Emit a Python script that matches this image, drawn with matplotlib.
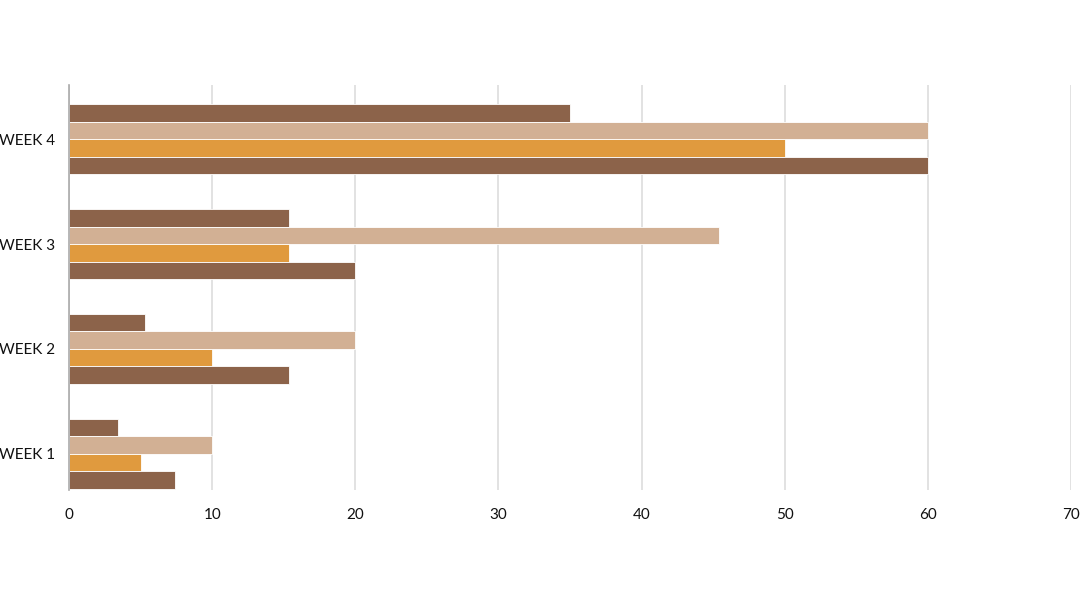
import matplotlib
matplotlib.use("Agg")
import matplotlib.pyplot as plt
import numpy as np

weeks = ["WEEK 1", "WEEK 2", "WEEK 3", "WEEK 4"]
series_a = [3.4, 5.3, 15.4, 35]    # top bar, dark brown
series_b = [10, 20, 45.4, 60]      # tan
series_c = [5, 10, 15.4, 50]       # orange
series_d = [7.4, 15.4, 20, 60]     # bottom bar, dark brown
xticks = [0, 10, 20, 30, 40, 50, 60, 70]

colors = ["#8C634A", "#D2B094", "#E09A3E", "#8C634A"]

plt.rcParams['font.family'] = ['Lato', 'DejaVu Sans']
fig = plt.figure(figsize=(10.8, 6.08), dpi=100)
ax = fig.add_axes([0.0639, 0.194, 0.9278, 0.666])

y = np.arange(len(weeks))
h = 0.167
offsets = [1.5 * h, 0.5 * h, -0.5 * h, -1.5 * h]
for vals, off, c in zip([series_a, series_b, series_c, series_d], offsets, colors):
    ax.barh(y + off, vals, height=h, color=c, edgecolor="white", linewidth=0.6, zorder=3)

ax.set_xlim(0, 70)
ax.set_ylim(-0.345, 3.515)
ax.set_xticks(xticks)
ax.set_xticklabels([str(t) for t in xticks])
ax.set_yticks(y)
ax.set_yticklabels(weeks)
ax.tick_params(axis='both', length=0, labelsize=11, colors="#111111")
ax.tick_params(axis='x', pad=13)
ax.tick_params(axis='y', pad=10)
ax.xaxis.grid(True, color="#DDDDDD", linewidth=1.2, zorder=0)
ax.set_axisbelow(True)
for s in ["top", "right", "bottom"]:
    ax.spines[s].set_visible(False)
ax.spines["left"].set_color("#AAAAAA")
ax.spines["left"].set_linewidth(1.2)
ax.spines["left"].set_zorder(4)

fig.savefig("out.png", dpi=100, facecolor="white")
